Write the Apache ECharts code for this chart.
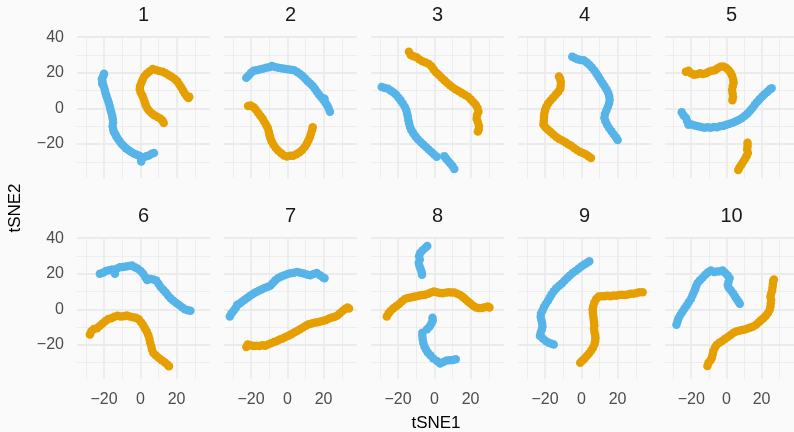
<!DOCTYPE html>
<html><head><meta charset="utf-8">
<script src="https://cdn.jsdelivr.net/npm/echarts@6/dist/echarts.min.js"></script>
<style>html,body{margin:0;padding:0;background:#fafafa}#c{width:794px;height:432px}</style>
</head><body><div id="c"></div>
<script>
const panelNames = ['1','2','3','4','5','6','7','8','9','10'];
const xTicks = [-20, 0, 20];
const yTicks = [-20, 0, 20, 40];
const xRange = [-34.9, 38.4];
const yRange = [-39.2, 40.3];

const blue1 = [[-20.0,19.5],[-20.5,18.0],[-21.2,16.5],[-20.8,15.0],[-21.0,13.8],[-20.2,12.5],[-19.6,10.5],[-19.2,8.6],[-18.6,6.8],[-18.0,5.0],[-17.4,3.2],[-16.9,1.4],[-16.5,-0.5],[-16.0,-2.3],[-15.5,-4.2],[-15.2,-6.0],[-15.0,-8.0],[-15.3,-10.0],[-14.9,-11.8],[-14.6,-13.2],[-13.8,-14.5],[-13.2,-15.8],[-12.4,-17.1],[-11.4,-18.5],[-10.4,-19.8],[-9.3,-21.0],[-8.0,-22.3],[-6.6,-23.4],[-5.2,-24.3],[-3.6,-25.3],[-2.0,-26.0],[-0.5,-26.6],[0.3,-28.3],[0.5,-29.8],[1.8,-27.4],[3.2,-26.9],[4.7,-26.5],[6.2,-25.5],[7.5,-25.0]];
const orange1 = [[12.9,-8.2],[12.2,-6.8],[11.0,-5.6],[9.4,-4.8],[7.8,-3.9],[6.4,-2.9],[5.0,-1.5],[3.9,0.0],[3.0,1.8],[2.4,3.6],[1.8,5.5],[1.1,7.3],[0.2,9.0],[-0.3,10.8],[-0.1,12.6],[0.6,14.4],[1.3,16.2],[2.1,18.0],[3.5,19.5],[5.0,20.8],[6.8,22.2],[8.6,21.6],[10.4,21.0],[12.3,20.6],[14.0,19.8],[15.8,18.7],[17.4,17.6],[19.0,16.5],[20.4,15.1],[21.5,13.5],[22.6,11.8],[23.6,10.0],[24.6,8.3],[25.6,6.8],[26.5,5.8],[27.0,6.5]];
const blue2 = [[-22.6,17.3],[-21.3,18.5],[-20.0,20.0],[-18.6,21.2],[-17.0,21.5],[-15.3,21.9],[-13.5,22.3],[-11.7,22.8],[-10.0,23.2],[-8.5,23.8],[-6.8,23.3],[-5.0,22.9],[-3.3,22.6],[-1.6,22.3],[0.2,22.0],[2.0,21.8],[3.7,21.4],[5.4,20.4],[7.0,19.3],[8.4,18.2],[9.8,16.8],[11.2,15.3],[12.6,14.0],[14.0,12.6],[15.2,11.0],[16.3,9.4],[17.4,7.8],[18.7,6.3],[19.9,4.8],[21.0,3.2],[22.0,1.6],[22.8,0.0],[23.5,-1.8],[20.5,5.5]];
const orange2 = [[-21.6,1.4],[-20.2,1.6],[-18.6,0.6],[-17.3,-0.8],[-16.0,-2.6],[-14.8,-4.2],[-13.6,-5.8],[-12.6,-7.6],[-11.6,-9.4],[-10.7,-11.2],[-10.2,-13.1],[-9.8,-15.0],[-9.3,-16.8],[-8.6,-18.6],[-7.6,-20.4],[-6.4,-22.2],[-5.0,-23.8],[-3.4,-25.2],[-1.8,-26.5],[-0.2,-27.0],[1.5,-26.6],[3.2,-26.6],[5.0,-25.8],[6.7,-24.6],[8.2,-23.3],[9.6,-21.7],[10.7,-19.8],[11.6,-18.0],[12.4,-16.2],[13.0,-14.2],[13.6,-12.3],[14.0,-10.6]];
const blue3 = [[-29.0,12.0],[-27.3,11.5],[-25.5,11.0],[-24.0,10.0],[-22.5,9.0],[-21.2,7.8],[-19.8,6.2],[-18.6,4.6],[-17.4,2.8],[-16.3,1.0],[-15.5,-0.9],[-15.0,-2.8],[-14.6,-4.7],[-14.3,-6.6],[-13.9,-8.5],[-13.4,-10.4],[-12.6,-12.2],[-11.6,-14.0],[-10.4,-15.7],[-9.1,-17.3],[-7.6,-18.9],[-6.1,-20.3],[-4.6,-21.7],[-3.1,-23.1],[-1.6,-24.5],[-0.1,-25.9],[1.3,-27.2],[5.5,-26.8],[6.5,-28.2],[7.6,-29.6],[8.8,-31.0],[10.0,-32.4],[11.0,-34.0]];
const orange3 = [[-14.0,31.8],[-13.0,30.0],[-11.5,29.3],[-9.8,28.8],[-8.2,27.5],[-6.5,26.5],[-4.8,25.8],[-3.0,25.0],[-1.5,23.6],[-0.3,21.8],[1.0,20.2],[2.5,18.8],[4.0,17.3],[5.5,15.9],[7.0,14.4],[8.6,13.0],[10.2,11.7],[11.8,10.6],[13.5,9.6],[15.2,8.6],[16.9,7.6],[18.6,6.6],[20.0,5.2],[21.4,3.6],[22.8,2.0],[23.8,0.2],[24.3,-1.8],[23.5,-3.8],[23.3,-5.8],[24.0,-7.8],[24.6,-9.8],[24.5,-11.8],[24.0,-13.0]];
const blue4 = [[-5.0,29.0],[-3.6,28.3],[-2.0,27.6],[-0.4,27.2],[1.3,27.0],[2.9,25.9],[4.4,24.6],[5.8,23.0],[7.2,21.3],[8.4,19.5],[9.5,17.8],[10.6,16.0],[11.7,14.2],[12.8,12.4],[13.9,10.6],[14.8,8.8],[15.4,6.8],[15.6,4.8],[15.3,2.8],[14.6,0.8],[13.8,-1.2],[13.0,-3.2],[12.7,-5.2],[13.3,-7.2],[14.2,-9.1],[15.3,-11.0],[16.6,-12.8],[17.9,-14.6],[19.2,-16.4],[20.0,-17.8]];
const orange4 = [[-12.3,18.0],[-11.6,16.5],[-11.3,14.8],[-11.4,12.9],[-11.6,11.0],[-12.8,9.3],[-14.2,7.7],[-15.6,6.0],[-17.0,4.4],[-18.3,2.7],[-19.3,0.9],[-20.0,-1.0],[-20.4,-3.0],[-20.6,-5.0],[-20.7,-7.0],[-20.9,-9.0],[-19.8,-10.6],[-18.4,-12.0],[-16.9,-13.3],[-15.4,-14.7],[-13.8,-16.0],[-12.2,-17.2],[-10.5,-18.0],[-8.8,-19.0],[-7.2,-20.1],[-5.6,-21.0],[-4.0,-22.2],[-2.4,-23.4],[-0.8,-24.4],[0.8,-25.0],[2.4,-25.8],[3.9,-26.8],[5.3,-27.8]];
const blue5 = [[-25.4,-2.2],[-24.4,-3.8],[-23.0,-5.2],[-22.3,-7.2],[-21.6,-9.2],[-19.8,-9.0],[-18.0,-9.6],[-16.2,-10.0],[-14.4,-10.4],[-12.6,-10.9],[-10.8,-10.6],[-9.0,-10.9],[-7.2,-10.5],[-5.4,-10.6],[-3.6,-10.0],[-1.8,-9.8],[0.0,-9.1],[1.8,-8.6],[3.6,-8.0],[5.4,-7.2],[7.2,-6.4],[8.9,-5.4],[10.5,-4.1],[12.0,-2.8],[13.4,-1.3],[14.8,0.3],[16.1,2.0],[17.4,3.6],[18.8,5.1],[20.2,6.5],[21.6,7.9],[23.2,9.3],[24.6,10.6],[25.7,11.4]];
const orange5 = [[-23.0,20.6],[-21.5,21.2],[-20.0,19.8],[-18.4,18.9],[-16.7,19.2],[-15.0,19.7],[-13.3,19.3],[-11.6,19.8],[-10.0,20.6],[-8.3,21.2],[-6.6,21.4],[-5.0,22.6],[-3.4,23.4],[-1.8,23.6],[-0.2,22.8],[1.2,21.6],[2.4,20.0],[3.2,18.3],[3.8,16.4],[4.1,14.4],[3.6,12.4],[3.2,10.4],[3.5,8.4],[3.7,6.4],[3.4,4.6],[12.0,-19.3],[12.0,-21.2],[11.8,-23.1],[12.2,-25.0],[11.4,-26.8],[10.5,-28.4],[9.5,-30.0],[8.5,-31.6],[7.4,-33.2],[6.7,-34.6]];
const blue6 = [[-22.3,20.0],[-20.6,20.6],[-19.0,21.5],[-17.3,22.0],[-15.6,22.4],[-14.0,20.0],[-13.0,22.8],[-11.3,23.6],[-9.6,23.8],[-7.9,24.0],[-6.2,24.3],[-4.6,24.6],[-3.0,23.7],[-1.4,22.8],[0.2,21.5],[1.6,20.0],[2.8,18.0],[3.8,16.5],[5.5,17.0],[7.2,16.8],[8.8,16.2],[10.0,14.4],[11.2,12.6],[12.6,11.0],[14.0,9.4],[15.3,7.8],[16.7,6.2],[18.2,4.8],[19.8,3.6],[21.4,2.4],[23.0,1.2],[24.6,0.0],[26.2,-0.5],[27.6,-0.8]];
const orange6 = [[-27.8,-14.2],[-27.0,-12.3],[-25.6,-11.0],[-23.9,-10.6],[-22.4,-9.4],[-20.8,-8.0],[-19.2,-6.6],[-17.6,-5.5],[-16.0,-5.0],[-14.3,-4.2],[-12.6,-3.6],[-10.9,-4.0],[-9.2,-3.9],[-7.5,-3.4],[-5.8,-4.0],[-4.1,-4.5],[-2.4,-4.8],[-0.9,-5.6],[0.4,-7.2],[1.6,-9.0],[2.6,-10.8],[3.6,-12.6],[4.4,-14.6],[5.0,-16.6],[5.4,-18.6],[6.0,-20.6],[6.4,-22.6],[7.2,-24.6],[8.6,-26.0],[10.2,-27.4],[11.8,-28.6],[13.4,-29.8],[15.0,-31.2],[15.8,-32.0]];
const blue7 = [[-31.7,-4.0],[-30.8,-2.4],[-29.6,-0.8],[-28.5,0.8],[-27.6,2.6],[-26.4,3.2],[-25.0,4.2],[-23.5,5.4],[-22.0,6.5],[-20.5,7.6],[-19.0,8.6],[-17.4,9.6],[-15.8,10.4],[-14.2,11.2],[-12.6,12.0],[-11.0,12.6],[-9.4,13.2],[-8.0,14.8],[-6.6,16.4],[-5.0,17.6],[-3.3,18.4],[-1.6,19.2],[0.1,19.8],[1.8,20.3],[3.6,20.6],[5.4,21.0],[7.2,20.6],[9.0,20.2],[10.8,19.6],[12.6,19.2],[14.4,19.8],[16.2,20.4],[18.0,19.2],[19.6,18.0],[20.5,17.4]];
const orange7 = [[-22.6,-21.2],[-21.8,-19.8],[-20.2,-20.2],[-18.6,-20.6],[-17.0,-20.4],[-15.4,-20.6],[-13.8,-20.2],[-12.2,-20.4],[-10.6,-19.8],[-9.0,-19.0],[-7.4,-18.4],[-5.8,-17.8],[-4.2,-17.0],[-2.6,-16.4],[-1.0,-15.6],[0.6,-14.8],[2.2,-14.0],[3.8,-13.0],[5.4,-12.2],[7.0,-11.2],[8.6,-10.2],[10.2,-9.2],[11.8,-8.4],[13.4,-8.0],[15.0,-7.6],[16.6,-7.2],[18.2,-6.8],[19.8,-6.4],[21.4,-6.0],[23.0,-5.2],[24.6,-4.6],[26.2,-4.2],[27.6,-3.4],[29.0,-2.2],[30.4,-1.0],[31.8,0.2],[33.2,1.0],[34.0,0.4]];
const blue8 = [[-3.9,35.6],[-5.0,34.4],[-6.6,33.0],[-7.8,31.6],[-8.4,29.8],[-8.0,28.0],[-8.6,26.2],[-8.2,24.4],[-7.6,22.8],[-7.0,21.0],[-6.8,19.4],[-1.0,-4.8],[-0.9,-6.4],[-1.6,-8.0],[-2.6,-9.6],[-4.0,-11.2],[-6.6,-13.2],[-6.6,-15.0],[-6.4,-17.0],[-6.0,-19.0],[-5.4,-21.0],[-4.6,-22.6],[-3.6,-24.2],[-2.2,-25.8],[-0.6,-27.6],[1.4,-29.0],[3.2,-30.4],[5.0,-29.6],[6.8,-28.8],[8.6,-28.6],[10.2,-28.4],[11.8,-28.0]];
const orange8 = [[-26.2,-4.0],[-25.2,-2.2],[-24.0,-0.8],[-22.6,0.6],[-21.0,1.8],[-19.4,3.0],[-17.8,4.6],[-16.2,5.8],[-14.6,6.3],[-13.0,6.6],[-11.4,7.0],[-9.8,7.4],[-8.2,7.8],[-6.6,8.0],[-5.0,8.2],[-3.4,8.8],[-1.8,9.4],[-0.2,10.0],[1.4,9.6],[3.0,9.2],[4.6,9.0],[6.2,9.3],[7.8,9.6],[9.4,9.4],[11.0,9.4],[12.6,8.8],[14.2,8.0],[15.6,7.0],[17.0,5.8],[18.4,4.6],[19.8,3.4],[21.4,2.0],[23.0,1.0],[24.6,0.8],[26.2,0.8],[27.8,1.2],[29.4,1.6],[30.4,1.0]];
const blue9 = [[4.4,27.0],[3.0,26.0],[1.6,25.2],[0.0,24.0],[-1.6,22.8],[-3.2,21.6],[-4.8,20.4],[-6.3,19.0],[-7.8,17.6],[-9.2,16.2],[-10.6,14.6],[-12.2,13.2],[-13.8,11.8],[-15.2,10.2],[-16.4,8.4],[-17.4,6.6],[-18.4,4.8],[-19.6,3.0],[-20.6,1.2],[-21.4,-0.6],[-22.2,-2.4],[-22.4,-4.2],[-22.0,-6.0],[-21.6,-7.8],[-21.4,-9.6],[-21.8,-11.4],[-22.4,-13.2],[-22.8,-15.0],[-21.2,-16.4],[-19.6,-17.8],[-18.0,-18.8],[-16.4,-19.4],[-15.2,-19.8]];
const orange9 = [[-0.6,-30.0],[0.6,-28.8],[1.8,-27.6],[3.0,-26.2],[4.2,-24.8],[5.4,-23.2],[6.4,-21.6],[7.2,-19.8],[7.6,-18.0],[7.8,-16.2],[7.6,-14.4],[7.2,-12.6],[7.0,-10.8],[7.2,-9.0],[7.0,-7.2],[6.8,-5.4],[6.6,-3.6],[6.4,-1.8],[6.2,0.0],[6.6,1.8],[7.2,3.8],[8.2,5.8],[9.6,7.2],[11.2,7.4],[12.8,7.4],[14.4,7.6],[16.0,7.4],[17.6,7.8],[19.2,7.6],[20.8,8.0],[22.4,8.2],[24.0,8.0],[25.6,8.4],[27.2,8.8],[28.8,8.8],[30.4,9.2],[32.0,9.6],[33.8,9.6]];
const blue10 = [[-28.4,-8.6],[-27.8,-6.8],[-27.2,-5.0],[-26.2,-3.2],[-25.0,-1.4],[-23.8,0.4],[-22.6,2.2],[-21.4,4.0],[-20.2,5.8],[-19.4,7.6],[-18.6,9.4],[-17.8,11.2],[-17.2,13.0],[-16.4,14.8],[-15.0,16.4],[-13.6,17.8],[-12.0,19.4],[-10.4,20.8],[-8.8,21.8],[-7.0,21.0],[-5.4,21.2],[-3.8,21.4],[-2.2,21.8],[-0.8,20.6],[0.6,19.2],[1.8,17.4],[1.2,15.4],[0.8,13.6],[1.4,12.0],[2.6,10.6],[3.8,9.0],[4.8,7.4],[5.8,5.8],[6.8,4.4],[7.6,3.2]];
const orange10 = [[-10.8,-31.8],[-10.2,-30.0],[-9.0,-28.6],[-8.2,-27.0],[-7.8,-25.2],[-7.4,-23.4],[-6.6,-21.6],[-5.6,-20.0],[-4.0,-18.8],[-2.4,-17.8],[-0.8,-16.6],[0.8,-15.6],[2.4,-14.4],[4.0,-13.2],[5.6,-12.4],[7.2,-12.0],[8.8,-11.6],[10.4,-11.4],[12.0,-10.8],[13.6,-10.2],[15.2,-9.6],[16.8,-8.6],[18.2,-7.4],[19.6,-6.2],[21.0,-5.0],[22.4,-3.6],[23.6,-2.0],[24.6,-0.2],[25.0,1.6],[25.2,3.4],[25.4,5.2],[25.0,7.0],[25.4,8.8],[26.0,10.6],[26.2,12.4],[26.4,14.2],[26.6,16.0],[27.0,16.8]];

const blueSets = [blue1,blue2,blue3,blue4,blue5,blue6,blue7,blue8,blue9,blue10];
const orangeSets = [orange1,orange2,orange3,orange4,orange5,orange6,orange7,orange8,orange9,orange10];

const BLUE = '#56B4E9', ORANGE = '#E69F00';
const FONT = '"Liberation Sans", Arial, sans-serif';
const colLeft = c => 77 + 147 * c;
const rowTop = [36.7, 237.6];
const W = 133, H = 141.5;
const fmt = v => v < 0 ? '\u2212' + Math.abs(v) : String(v);

const grids = [], xAxes = [], yAxes = [], series = [], graphics = [];
panelNames.forEach((name, i) => {
  const r = Math.floor(i / 5), c = i % 5;
  grids.push({left: colLeft(c), top: rowTop[r], width: W, height: H, containLabel: false});
  const gridLine = {color: '#EBEBEB', width: 1.8};
  xAxes.push({
    gridIndex: i, type: 'value', min: xRange[0], max: xRange[1], minInterval: 20, maxInterval: 20,
    axisLine: {show: false}, axisTick: {show: false},
    axisLabel: {show: r === 1, margin: 12, color: '#4D4D4D', fontSize: 16, fontFamily: FONT,
      showMinLabel: false, showMaxLabel: false,
      formatter: v => xTicks.some(t => Math.abs(t - v) < 1e-6) ? fmt(Math.round(v)) : ''},
    splitLine: {show: true, showMinLine: false, showMaxLine: false, lineStyle: gridLine},
    minorTick: {show: false, splitNumber: 2},
    minorSplitLine: {show: true, lineStyle: {color: '#EBEBEB', width: 0.9}}
  });
  yAxes.push({
    gridIndex: i, type: 'value', min: yRange[0], max: yRange[1], minInterval: 20, maxInterval: 20,
    axisLine: {show: false}, axisTick: {show: false},
    axisLabel: {show: c === 0, margin: 13, color: '#4D4D4D', fontSize: 16, fontFamily: FONT,
      showMinLabel: false, showMaxLabel: false,
      formatter: v => yTicks.some(t => Math.abs(t - v) < 1e-6) ? fmt(Math.round(v)) : ''},
    splitLine: {show: true, showMinLine: false, showMaxLine: false, lineStyle: gridLine},
    minorTick: {show: false, splitNumber: 2},
    minorSplitLine: {show: true, lineStyle: {color: '#EBEBEB', width: 0.9}}
  });
  series.push({type: 'scatter', xAxisIndex: i, yAxisIndex: i, data: blueSets[i], symbolSize: 8.5,
    itemStyle: {color: BLUE, opacity: 1}, silent: true});
  series.push({type: 'scatter', xAxisIndex: i, yAxisIndex: i, data: orangeSets[i], symbolSize: 8.5,
    itemStyle: {color: ORANGE, opacity: 1}, silent: true});
  graphics.push({type: 'text', x: colLeft(c) + W / 2, y: 15.5 + 201 * r,
    style: {text: name, fontSize: 20, fontFamily: FONT, fill: '#1A1A1A', align: 'center', verticalAlign: 'middle'}});
});
graphics.push({type: 'text', x: 436, y: 423,
  style: {text: 'tSNE1', fontSize: 17, fontFamily: FONT, fill: '#000', align: 'center', verticalAlign: 'middle'}});
graphics.push({type: 'text', x: 15.5, y: 208, rotation: Math.PI / 2,
  style: {text: 'tSNE2', fontSize: 17, fontFamily: FONT, fill: '#000', align: 'center', verticalAlign: 'middle'}});

const chart = echarts.init(document.getElementById('c'), null, {renderer: 'canvas'});
chart.setOption({
  backgroundColor: '#FAFAFA',
  animation: false,
  grid: grids, xAxis: xAxes, yAxis: yAxes, series: series, graphic: graphics
});
</script></body></html>
